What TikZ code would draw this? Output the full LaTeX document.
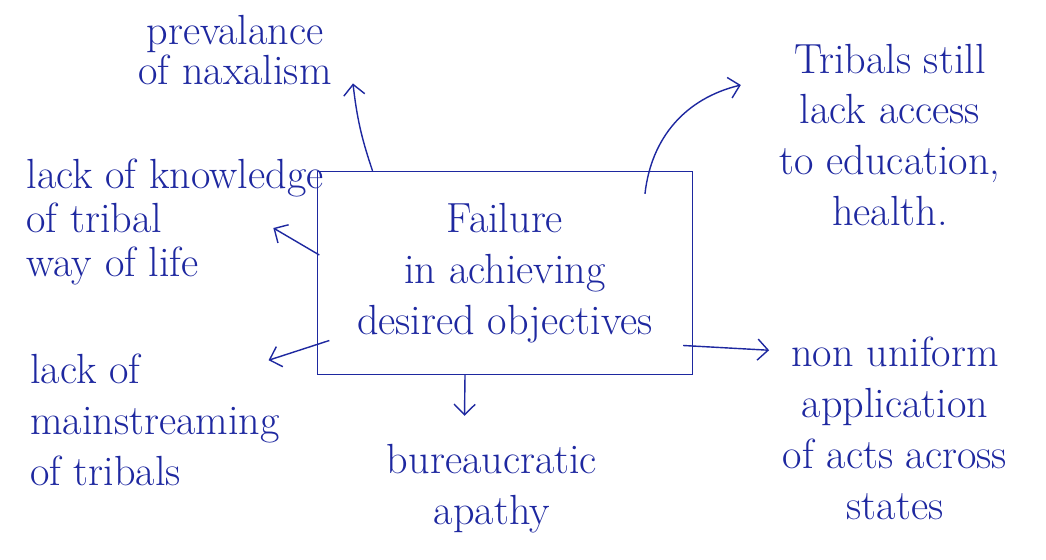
\documentclass[tikz,border=0pt]{standalone}
\usetikzlibrary{arrows.meta}
\definecolor{ink}{RGB}{30,40,160}
\tikzset{
  idea/.style={ink, font=\fontsize{24}{29}\selectfont, align=center, inner sep=2pt},
  cause/.style={ink, thick, -{Straight Barb[length=6pt]}},
}
\begin{document}
\begin{tikzpicture}[x=0.02cm,y=-0.02cm]
  \useasboundingbox[fill=white] (0,0) rectangle (1046,559);
  \node[idea, draw, thick, minimum width=7.5cm, minimum height=4.06cm] (box) at (505,273) {Failure\\in achieving\\desired objectives};
  \node[idea, font=\fontsize{24}{21}\selectfont] (naxal) at (235,50) {prevalance\\of naxalism};
  \node[idea] (access) at (890,135) {Tribals still\\lack access\\to education,\\health.};
  \node[idea, align=left, font=\fontsize{24}{25}\selectfont] (knowledge) at (175,222) {lack of knowledge\\of tribal\\way of life};
  \node[idea, align=left] (mainstream) at (155,420) {lack of\\mainstreaming\\of tribals};
  \node[idea] (apathy) at (492,489) {bureaucratic\\apathy};
  \node[idea] (acts) at (895,428) {non uniform\\application\\of acts across\\states};
  % arrows out of the box
  \draw[cause] ([xshift=-2.65cm]box.north) to[bend left=6] ([xshift=0.35cm,yshift=0.1cm]naxal.south east);
  \draw[cause] ([xshift=2.8cm,yshift=-0.46cm]box.north) to[bend left=35] ([xshift=-0.7cm,yshift=1.0cm]access.west);
  \draw[cause] ([xshift=0.05cm,yshift=0.36cm]box.west) -- ([xshift=-1.08cm,yshift=-0.12cm]knowledge.east);
  \draw[cause] ([xshift=0.25cm,yshift=-1.35cm]box.west) -- ([xshift=-0.3cm,yshift=-0.2cm]mainstream.north east);
  \draw[cause] ([xshift=-0.8cm]box.south) -- ([xshift=-0.55cm,yshift=0.5cm]apathy.north);
  \draw[cause] ([xshift=-0.2cm,yshift=-1.45cm]box.east) -- ([xshift=-0.2cm,yshift=-0.35cm]acts.north west);
\end{tikzpicture}
\end{document}
